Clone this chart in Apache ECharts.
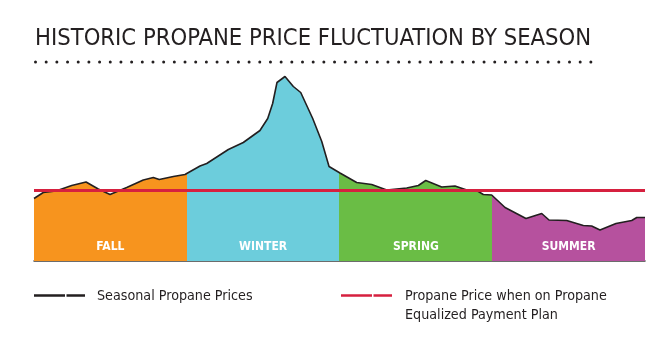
<!DOCTYPE html>
<html>
<head>
<meta charset="utf-8">
<script src="https://cdn.jsdelivr.net/npm/echarts@6/dist/echarts.min.js"></script>
<style>
  html, body { margin: 0; padding: 0; background: #ffffff; }
  #chart { width: 670px; height: 337px; }
</style>
</head>
<body>
<div id="chart"></div>
<script>
// Week of the heating year (0 = start of fall) and propane price ($/gal)
const weeks = [0, 0.79, 1.87, 3.21, 4.43, 5.47, 6.47, 7.89, 9.30, 10.15, 10.66, 11.86, 12.85,
  14.13, 14.70, 16.54, 17.81, 19.23, 19.89, 20.31, 20.68, 21.36, 22.07, 22.70, 23.72, 24.49, 25.11,
  26.04, 27.46, 28.74, 30.02, 31.72, 32.71, 33.34, 34.70, 35.83, 36.83, 37.68, 38.24, 38.95,
  40.09, 41.87, 43.21, 43.83, 45.34, 46.75, 47.46, 48.17, 49.53, 50.87, 51.30, 52];
const prices = [1.25, 1.37, 1.40, 1.51, 1.58, 1.44, 1.33, 1.47, 1.62, 1.67, 1.63, 1.69, 1.73,
  1.90, 1.95, 2.23, 2.37, 2.61, 2.85, 3.15, 3.57, 3.69, 3.49, 3.37, 2.85, 2.39, 1.89,
  1.76, 1.57, 1.53, 1.42, 1.46, 1.51, 1.61, 1.48, 1.50, 1.42, 1.41, 1.33, 1.32,
  1.07, 0.85, 0.95, 0.82, 0.81, 0.71, 0.70, 0.62, 0.75, 0.81, 0.87, 0.87];

const seasons = ['FALL', 'WINTER', 'SPRING', 'SUMMER'];
const seasonStarts = [0, 13, 26, 39];
const seasonEnds = [13, 26, 39, 52];
const seasonColors = ['#f7941e', '#6ccddc', '#6abd45', '#b6519e'];

// Flat price under the equalized payment plan
const equalizedPrice = 1.41;

const titleText = 'HISTORIC PROPANE PRICE FLUCTUATION BY SEASON';
const legendLabels = ['Seasonal Propane Prices', 'Propane Price when on Propane', 'Equalized Payment Plan'];

const FONT = '"Liberation Sans Narrow", "DejaVu Sans Condensed", "Open Sans", sans-serif';

const chart = echarts.init(document.getElementById('chart'), null, { renderer: 'canvas' });

const pricePoints = weeks.map((w, i) => [w, prices[i]]);

chart.setOption({
  animation: false,
  backgroundColor: '#ffffff',
  grid: { left: 34, right: 25, top: 61, bottom: 76 },
  xAxis: {
    type: 'value', min: 0, max: 52,
    axisLine: { show: true, lineStyle: { color: '#3d3d3d', width: 1.5 } },
    axisTick: { show: false }, axisLabel: { show: false }, splitLine: { show: false }
  },
  yAxis: {
    type: 'value', min: 0, max: 4,
    axisLine: { show: false }, axisTick: { show: false }, axisLabel: { show: false }, splitLine: { show: false }
  },
  visualMap: {
    show: false, type: 'piecewise', dimension: 0, seriesIndex: 0,
    pieces: seasons.map((s, i) => i === seasons.length - 1
      ? { gte: seasonStarts[i], lte: seasonEnds[i], color: seasonColors[i] }
      : { gte: seasonStarts[i], lt: seasonEnds[i], color: seasonColors[i] })
  },
  series: [
    {
      // seasonal fill under the price curve
      type: 'line', data: pricePoints, symbol: 'none', z: 1,
      lineStyle: { width: 0, opacity: 0 },
      areaStyle: { opacity: 1 }
    },
    {
      // price curve outline
      type: 'line', data: pricePoints, symbol: 'none', z: 3,
      lineStyle: { color: '#231f20', width: 1.6 },
      markArea: {
        silent: true,
        itemStyle: { color: 'rgba(0,0,0,0)' },
        label: {
          position: 'insideBottom', distance: 8, color: '#ffffff',
          fontFamily: FONT, fontSize: 12, fontWeight: 'bold'
        },
        data: seasons.map((s, i) => [{ name: s, xAxis: seasonStarts[i] }, { xAxis: seasonEnds[i] }])
      }
    },
    {
      // equalized plan price
      type: 'line', data: [[0, equalizedPrice], [52, equalizedPrice]], symbol: 'none', z: 4,
      lineStyle: { color: '#d6203f', width: 3 }
    }
  ],
  graphic: [
    {
      type: 'text', left: 35, top: 27, z: 10,
      style: { text: titleText, fill: '#231f20', font: '23.6px ' + FONT }
    },
    {
      type: 'line', z: 10,
      shape: { x1: 35.5, y1: 62, x2: 592, y2: 62 },
      style: { stroke: '#231f20', lineWidth: 3, lineCap: 'round', lineDash: [0, 10.68] }
    },
    {
      type: 'line', z: 10,
      shape: { x1: 34, y1: 295.5, x2: 85, y2: 295.5 },
      style: { stroke: '#231f20', lineWidth: 2.5, lineDash: [31, 1.5] }
    },
    {
      type: 'text', left: 97, top: 289, z: 10,
      style: { text: legendLabels[0], fill: '#231f20', font: '14.2px ' + FONT }
    },
    {
      type: 'line', z: 10,
      shape: { x1: 341, y1: 295.5, x2: 392, y2: 295.5 },
      style: { stroke: '#d6203f', lineWidth: 2.5, lineDash: [31, 1.5] }
    },
    {
      type: 'text', left: 405, top: 289, z: 10,
      style: { text: legendLabels[1], fill: '#231f20', font: '14.2px ' + FONT }
    },
    {
      type: 'text', left: 405, top: 308, z: 10,
      style: { text: legendLabels[2], fill: '#231f20', font: '14.2px ' + FONT }
    }
  ]
});
</script>
</body>
</html>
